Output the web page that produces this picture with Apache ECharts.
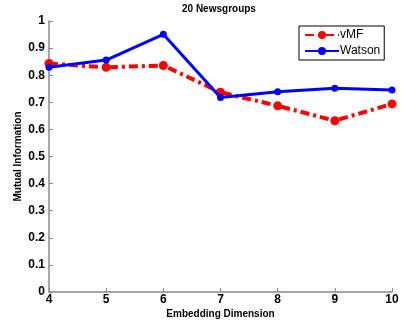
<!DOCTYPE html>
<html>
<head>
<meta charset="utf-8">
<script src="https://cdn.jsdelivr.net/npm/echarts@6/dist/echarts.min.js"></script>
<style>
  html, body { margin: 0; padding: 0; background: #fff; }
  #chart { width: 401px; height: 321px; }
</style>
</head>
<body>
<div id="chart"></div>
<script>
// embedding dimension
const dims = [4, 5, 6, 7, 8, 9, 10];
// mutual information values
const vmf = [0.843, 0.829, 0.836, 0.737, 0.687, 0.632, 0.694];
const watson = [0.829, 0.856, 0.951, 0.718, 0.739, 0.752, 0.745];
const yTicks = [0, 0.1, 0.2, 0.3, 0.4, 0.5, 0.6, 0.7, 0.8, 0.9, 1];

const font = "Liberation Sans";
const chart = echarts.init(document.getElementById("chart"));

function pairs(vals) {
  return dims.map((d, i) => [d, vals[i]]);
}

chart.setOption({
  animation: false,
  title: {
    text: "20 Newsgroups",
    left: 182,
    top: 4,
    padding: 0,
    textStyle: { fontFamily: font, fontSize: 10, fontWeight: "bold", color: "#000" },
  },
  grid: { left: 49, right: 9, top: 21, bottom: 29, outerBoundsMode: "none" },
  legend: {
    orient: "vertical",
    left: 299,
    top: 26,
    padding: [3, 4, 3, 5],
    itemGap: 4,
    itemWidth: 34,
    itemHeight: 10,
    borderColor: "#000",
    borderWidth: 1,
    backgroundColor: "#fff",
    textStyle: { fontFamily: font, fontSize: 12, color: "#000", padding: [0, 0, 0, -4] },
    data: ["vMF", "Watson"],
  },
  xAxis: {
    type: "value",
    min: 4,
    max: 10,
    interval: 1,
    name: "Embedding Dimension",
    nameLocation: "middle",
    nameGap: 17,
    nameMoveOverlap: false,
    nameTextStyle: { fontFamily: font, fontSize: 10, fontWeight: "bold", color: "#000" },
    axisLine: { lineStyle: { color: "#888", width: 1.5 } },
    axisTick: { inside: true, length: 4, lineStyle: { color: "#888" } },
    axisLabel: { fontFamily: font, fontSize: 12, fontWeight: "bold", color: "#000", margin: 2 },
    splitLine: { show: false },
  },
  yAxis: {
    type: "value",
    min: 0,
    max: 1,
    interval: 0.1,
    name: "Mutual Information",
    nameLocation: "middle",
    nameGap: 26,
    nameRotate: 90,
    nameMoveOverlap: false,
    nameTextStyle: { fontFamily: font, fontSize: 10, fontWeight: "bold", color: "#000" },
    axisLine: { show: true, lineStyle: { color: "#888", width: 1.5 } },
    axisTick: { show: true, inside: true, length: 4, lineStyle: { color: "#888" } },
    axisLabel: {
      fontFamily: font, fontSize: 12, fontWeight: "bold", color: "#000", margin: 4,
      formatter: (v) => {
        const t = yTicks.find((x) => Math.abs(x - v) < 1e-6);
        return t === undefined ? "" : String(t);
      },
    },
    splitLine: { show: false },
  },
  series: [
    {
      name: "vMF",
      type: "line",
      data: pairs(vmf),
      symbol: "circle",
      symbolSize: 9,
      itemStyle: { color: "#ff0000" },
      lineStyle: { color: "#ff0000", width: 4, type: [9, 4, 3, 4] },
      z: 2,
    },
    {
      name: "Watson",
      type: "line",
      data: pairs(watson),
      symbol: "circle",
      symbolSize: 7,
      itemStyle: { color: "#0000ff" },
      lineStyle: { color: "#0000ff", width: 3 },
      z: 3,
    },
  ],
});
</script>
</body>
</html>
